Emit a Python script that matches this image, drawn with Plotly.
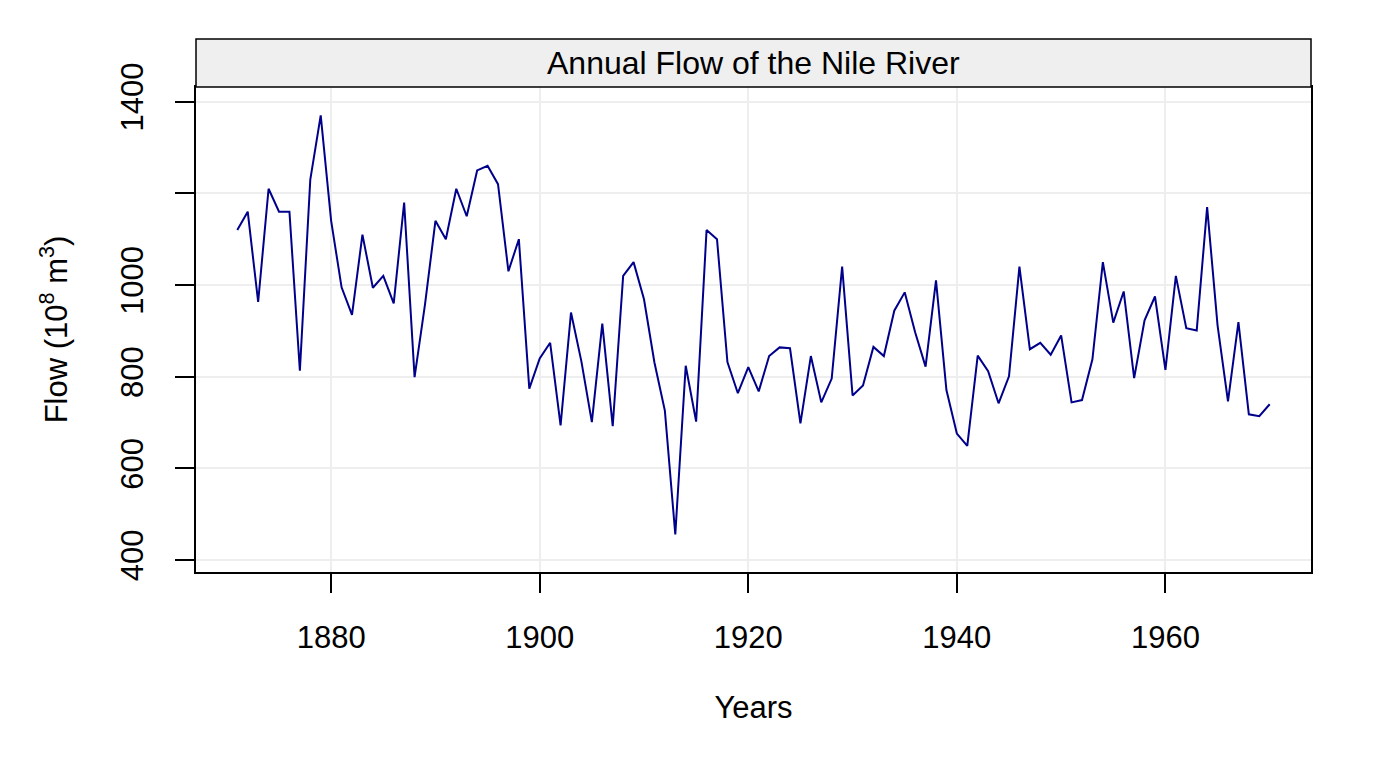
import plotly.graph_objects as go

# Caudal anual del rio Nilo en Asuan (10^8 m^3), 1871-1970
years = list(range(1871, 1971))
flow = [1120, 1160, 963, 1210, 1160, 1160, 813, 1230, 1370, 1140,
        995, 935, 1110, 994, 1020, 960, 1180, 799, 958, 1140,
        1100, 1210, 1150, 1250, 1260, 1220, 1030, 1100, 774, 840,
        874, 694, 940, 833, 701, 916, 692, 1020, 1050, 969,
        831, 726, 456, 824, 702, 1120, 1100, 832, 764, 821,
        768, 845, 864, 862, 698, 845, 744, 796, 1040, 759,
        781, 865, 845, 944, 984, 897, 822, 1010, 771, 676,
        649, 846, 812, 742, 801, 1040, 860, 874, 848, 890,
        744, 749, 838, 1050, 918, 986, 797, 923, 975, 815,
        1020, 906, 901, 1170, 912, 746, 919, 718, 714, 740]

x_ticks = [1880, 1900, 1920, 1940, 1960]
y_ticks = [400, 600, 800, 1000, 1200, 1400]
y_ticklabels = ['400', '600', '800', '1000', '', '1400']

fuente = 'Liberation Sans, Arial, sans-serif'

fig = go.Figure()

fig.add_trace(go.Scatter(
    x=years,
    y=flow,
    mode='lines',
    line=dict(color='#00008B', width=2),
    showlegend=False
))

# altura de la franja del titulo (estilo lattice)
alto_franja = 48 / 485

fig.add_shape(type='rect', xref='paper', yref='paper',
              x0=0, x1=1, y0=1, y1=1 + alto_franja,
              fillcolor='#EFEFEF', line=dict(color='black', width=1.5))

fig.add_annotation(text='Annual Flow of the Nile River',
                   xref='paper', yref='paper', x=0.5, y=1 + alto_franja / 2,
                   showarrow=False, xanchor='center', yanchor='middle',
                   font=dict(size=32, color='black', family=fuente))

# la pagina tiene 8px de margen, por eso el tamaño es algo menor que la ventana
fig.update_layout(
    width=1376,
    height=752,
    plot_bgcolor='white',
    paper_bgcolor='white',
    margin=dict(l=188, r=73, t=79, b=188),
    font=dict(family=fuente, size=31, color='black'),
    xaxis=dict(
        range=[1867.04, 1973.96],
        tickvals=x_ticks,
        ticks='outside', ticklen=19, tickwidth=1.5, tickcolor='black',
        ticklabelstandoff=18,
        showline=True, linecolor='black', linewidth=1.5, mirror=True,
        showgrid=True, gridcolor='#EEEEEE', gridwidth=1.5,
        zeroline=False,
        title=dict(text='Years', standoff=42, font=dict(size=31))
    ),
    yaxis=dict(
        range=[374, 1432],
        tickvals=y_ticks,
        ticktext=y_ticklabels,
        tickangle=-90,
        ticks='outside', ticklen=19, tickwidth=1.5, tickcolor='black',
        ticklabelstandoff=20,
        showline=True, linecolor='black', linewidth=1.5, mirror=True,
        showgrid=True, gridcolor='#EEEEEE', gridwidth=1.5,
        zeroline=False,
        title=dict(text='Flow (10<sup>8</sup> m<sup>3</sup>)', standoff=38, font=dict(size=31))
    )
)

fig.write_html('out.html')
